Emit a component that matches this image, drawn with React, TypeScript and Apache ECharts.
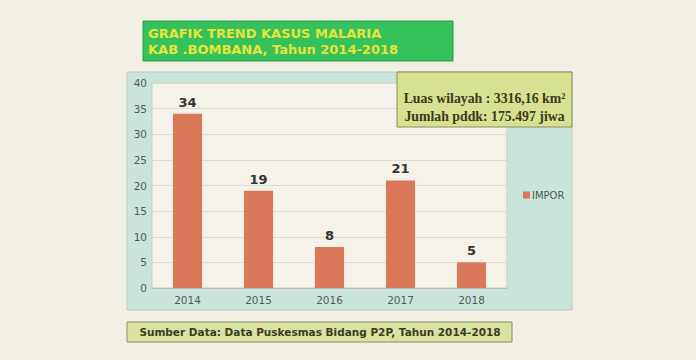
import React, { useEffect, useRef } from "react";
import * as echarts from "echarts";

const years = ["2014", "2015", "2016", "2017", "2018"];
const impor = [34, 19, 8, 21, 5];
const seriesName = "IMPOR";
const titleLines = ["GRAFIK TREND KASUS MALARIA", "KAB .BOMBANA, Tahun 2014-2018"];
const infoLines = ["Luas wilayah : 3316,16 km²", "Jumlah pddk: 175.497 jiwa"];
const sourceText = "Sumber Data: Data Puskesmas Bidang P2P, Tahun 2014-2018";

export default function App() {
  const ref = useRef<HTMLDivElement>(null);
  useEffect(() => {
    if (!ref.current) return;
    const chart = echarts.init(ref.current, null, { renderer: "svg" });
    chart.setOption({
      animation: false,
      backgroundColor: "#f2efe5",
      graphic: [
        {
          type: "rect",
          z: -10,
          shape: { x: 127, y: 72, width: 445, height: 238 },
          style: { fill: "#c8e4db", stroke: "#b9cbc3", lineWidth: 1 },
        },
        {
          type: "rect",
          shape: { x: 143, y: 21, width: 310, height: 40 },
          style: { fill: "#35c25a", stroke: "#2a9a48", lineWidth: 1 },
        },
        {
          type: "text",
          x: 148,
          y: 33,
          style: {
            text: titleLines[0],
            fill: "#e9e23c",
            font: "bold 13px 'DejaVu Sans'",
            verticalAlign: "middle",
          },
        },
        {
          type: "text",
          x: 148,
          y: 49,
          style: {
            text: titleLines[1],
            fill: "#e9e23c",
            font: "bold 13px 'DejaVu Sans'",
            verticalAlign: "middle",
          },
        },
        {
          type: "rect",
          z: 100,
          shape: { x: 397, y: 72, width: 175, height: 55 },
          style: { fill: "#d7e192", stroke: "#8a8a5a", lineWidth: 1 },
        },
        {
          type: "text",
          z: 101,
          x: 484.5,
          y: 98,
          style: {
            text: infoLines[0],
            fill: "#3b3a1c",
            font: "bold 13.8px 'Liberation Serif'",
            align: "center",
            verticalAlign: "middle",
          },
        },
        {
          type: "text",
          z: 101,
          x: 484.5,
          y: 116,
          style: {
            text: infoLines[1],
            fill: "#3b3a1c",
            font: "bold 13.8px 'Liberation Serif'",
            align: "center",
            verticalAlign: "middle",
          },
        },
        {
          type: "rect",
          shape: { x: 127, y: 322, width: 385, height: 20 },
          style: { fill: "#d9e3a1", stroke: "#8d8f64", lineWidth: 1 },
        },
        {
          type: "text",
          x: 320,
          y: 332,
          style: {
            text: sourceText,
            fill: "#3d3c1f",
            font: "bold 10.5px 'DejaVu Sans'",
            align: "center",
            verticalAlign: "middle",
          },
        },
      ],
      grid: {
        left: 152,
        right: 189,
        top: 83,
        bottom: 72,
        show: true,
        backgroundColor: "#f5f3e9",
        borderColor: "#c9cfc6",
        borderWidth: 1,
      },
      legend: {
        left: 518,
        top: 185,
        orient: "vertical",
        itemWidth: 7,
        itemHeight: 7,
        itemGap: 4,
        icon: "rect",
        textStyle: { fontFamily: "DejaVu Sans", fontSize: 10, color: "#555555", padding: [0, 0, 0, -3] },
        data: [seriesName],
      },
      xAxis: {
        type: "category",
        data: years,
        axisLine: { lineStyle: { color: "#bcbcb4" } },
        axisTick: { show: false },
        axisLabel: { fontFamily: "DejaVu Sans", fontSize: 10.5, color: "#585858", margin: 6 },
      },
      yAxis: {
        type: "value",
        min: 0,
        max: 40,
        interval: 5,
        axisLine: { show: false },
        axisTick: { show: false },
        splitLine: { lineStyle: { color: "#dcdcd2" } },
        axisLabel: { fontFamily: "DejaVu Sans", fontSize: 10.5, color: "#585858", margin: 5 },
      },
      series: [
        {
          name: seriesName,
          type: "bar",
          data: impor,
          barWidth: "41%",
          itemStyle: { color: "#da785a" },
          label: {
            show: true,
            position: "top",
            distance: 5,
            fontFamily: "DejaVu Sans",
            fontWeight: "bold",
            fontSize: 13,
            color: "#333333",
          },
        },
      ],
    });
    return () => chart.dispose();
  }, []);
  return (
    <div
      ref={ref}
      style={{ position: "fixed", left: 0, top: 0, width: 696, height: 360 }}
    />
  );
}
